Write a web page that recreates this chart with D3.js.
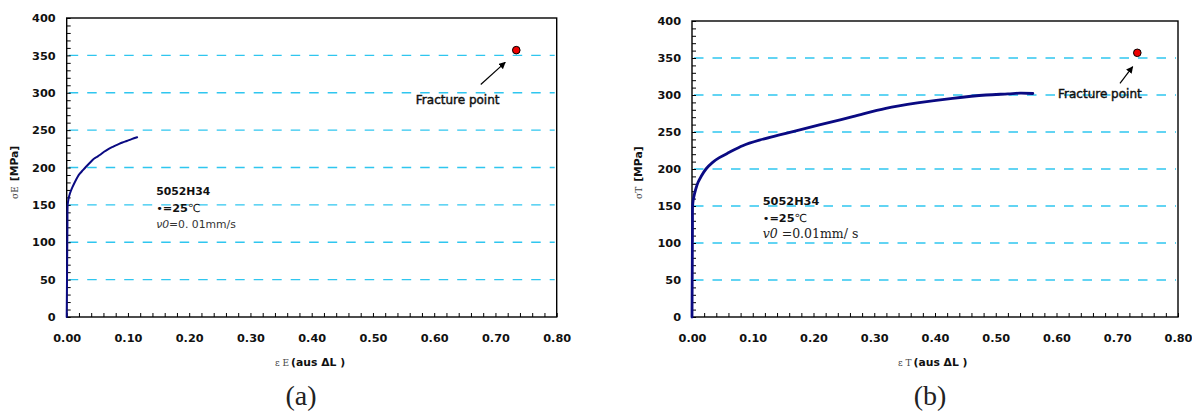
<!DOCTYPE html>
<html>
<head>
<meta charset="utf-8">
<script src="https://cdn.jsdelivr.net/npm/d3@7"></script>
<style>
  html, body { margin: 0; padding: 0; background: #fff; }
  svg { display: block; }
</style>
</head>
<body>
<svg id="chart" width="1192" height="414"></svg>
<script>
// ---------- data ----------
const xTickValues = [0, 0.1, 0.2, 0.3, 0.4, 0.5, 0.6, 0.7, 0.8];
const xTickLabels = ["0.00", "0.10", "0.20", "0.30", "0.40", "0.50", "0.60", "0.70", "0.80"];
const yTickValues = [0, 50, 100, 150, 200, 250, 300, 350, 400];
const gridValues = [50, 100, 150, 200, 250, 300, 350];

// (a) engineering stress-strain
const strainA = [0, 0.0003, 0.0006, 0.0009, 0.0012, 0.0016, 0.0030, 0.0054, 0.0090, 0.0136, 0.0175, 0.0217,
                 0.0265, 0.0315, 0.0375, 0.0435, 0.0490, 0.0540, 0.0610, 0.0680, 0.0760, 0.0840, 0.0910, 0.0980, 0.1060, 0.1150];
const stressA = [0, 30, 60, 95, 125, 150, 158, 165.5, 173, 181, 187, 192,
                 196.5, 201, 206, 211, 214, 216.7, 221, 224.7, 228, 231, 233.5, 235.5, 238, 240.5];

// (b) true stress-strain
const strainB = [0, 0.0002, 0.0004, 0.0006, 0.0008, 0.0010, 0.0020, 0.0040, 0.0066, 0.0100, 0.0148, 0.0230,
                 0.0340, 0.0450, 0.0615, 0.0834, 0.1110, 0.1440, 0.1710, 0.2096, 0.2645, 0.3190,
                 0.3740, 0.4290, 0.4840, 0.5200, 0.5400, 0.5610];
const stressB = [0, 30, 60, 95, 125, 150, 158, 166, 174, 182, 189.6, 200,
                 209, 215.3, 222.5, 231.5, 239, 246, 251.4, 259.5, 270.7, 282,
                 289.6, 295.5, 300, 301.5, 302.5, 302];

// fracture points
const fractureStrain = [0.734, 0.733];
const fractureStress = [357, 357];

// ---------- drawing ----------
const svg = d3.select("#chart");
const gridColor = "#2fc6ef";
const curveColor = "#0a0a82";
const tickFont = "'DejaVu Sans', Verdana, sans-serif";

const panels = [
  {
    left: 66.7, right: 556.7, top: 18, bottom: 317,
    strain: strainA, stress: stressA, curveWidth: 2,
    fx: fractureStrain[0], fy: fractureStress[0],
    arrow: { x1: 0.676, y1: 311, x2: 0.716, y2: 340.7 },
    fracLabel: { x: 0.570, y: 285 },
    info: { x: 0.146, y: [163.2, 140.9, 119.1] },
    infoStyle: "a",
    ySym: "σE", xSym: "ε E", caption: "(a)", captionX: 301,
    yTitleX: 18, xTitleX: 275
  },
  {
    left: 692, right: 1178, top: 21, bottom: 317,
    strain: strainB, stress: stressB, curveWidth: 2.8,
    fx: fractureStrain[1], fy: fractureStress[1],
    arrow: { x1: 0.7045, y1: 315.8, x2: 0.7254, y2: 338.2 },
    fracLabel: { x: 0.6025, y: 296 },
    info: { x: 0.1164, y: [151.4, 128.4, 106.8] },
    infoStyle: "b",
    ySym: "σT", xSym: "ε T", caption: "(b)", captionX: 930,
    yTitleX: 642, xTitleX: 898
  }
];

svg.append("defs").append("marker")
  .attr("id", "arrowhead")
  .attr("viewBox", "0 0 10 10")
  .attr("refX", 9).attr("refY", 5)
  .attr("markerWidth", 7).attr("markerHeight", 7)
  .attr("markerUnits", "userSpaceOnUse")
  .attr("orient", "auto")
  .append("path").attr("d", "M0,0 L10,5 L0,10 z").attr("fill", "#000");

panels.forEach(p => {
  const x = d3.scaleLinear().domain([0, 0.8]).range([p.left, p.right]);
  const y = d3.scaleLinear().domain([0, 400]).range([p.bottom, p.top]);
  const g = svg.append("g");

  // grid lines
  g.append("g").selectAll("line").data(gridValues).join("line")
    .attr("x1", x(0) + 2).attr("x2", x(0.8) - 2)
    .attr("y1", d => y(d)).attr("y2", d => y(d))
    .attr("stroke", gridColor).attr("stroke-width", 1.3)
    .attr("stroke-dasharray", "9.5,9");

  // minor ticks (inside)
  const yMinor = d3.range(0, 401, 10);
  const xMinor = d3.range(0, 0.8001, 0.02);
  g.append("g").call(d3.axisRight(y).tickValues(yMinor).tickSize(4).tickFormat(""))
    .attr("transform", `translate(${p.left},0)`)
    .call(a => a.select(".domain").remove())
    .call(a => a.selectAll("line").attr("stroke", "#000").attr("stroke-width", 1));
  g.append("g").call(d3.axisTop(x).tickValues(xMinor).tickSize(4).tickFormat(""))
    .attr("transform", `translate(0,${p.bottom})`)
    .call(a => a.select(".domain").remove())
    .call(a => a.selectAll("line").attr("stroke", "#000").attr("stroke-width", 1));

  // axes labels
  const yAxis = g.append("g").attr("transform", `translate(${p.left},0)`)
    .call(d3.axisLeft(y).tickValues(yTickValues).tickSize(0).tickPadding(11));
  yAxis.select(".domain").remove();
  yAxis.selectAll("text").attr("font-family", tickFont).attr("font-weight", "bold")
    .attr("font-size", "11.3px").attr("fill", "#111");

  const xAxis = g.append("g").attr("transform", `translate(0,${p.bottom})`)
    .call(d3.axisBottom(x).tickValues(xTickValues).tickSize(0).tickPadding(17)
      .tickFormat((d, i) => xTickLabels[i]));
  xAxis.select(".domain").remove();
  xAxis.selectAll("text").attr("font-family", tickFont).attr("font-weight", "bold")
    .attr("font-size", "11.3px").attr("fill", "#111");

  // frame
  g.append("rect")
    .attr("x", x(0)).attr("y", y(400))
    .attr("width", x(0.8) - x(0)).attr("height", y(0) - y(400))
    .attr("fill", "none").attr("stroke", "#000").attr("stroke-width", 1.4);

  // curve
  g.append("path").datum(p.strain)
    .attr("d", d3.line()
      .x((d, i) => x(p.strain[i]))
      .y((d, i) => y(p.stress[i]))
      .curve(d3.curveCatmullRom.alpha(0.5)))
    .attr("fill", "none").attr("stroke", curveColor)
    .attr("stroke-width", p.curveWidth).attr("stroke-linejoin", "round").attr("stroke-linecap", "round");

  // fracture point
  g.append("circle").attr("cx", x(p.fx)).attr("cy", y(p.fy)).attr("r", 3.8)
    .attr("fill", "#ee0000").attr("stroke", "#000").attr("stroke-width", 1);

  g.append("line")
    .attr("x1", x(p.arrow.x1)).attr("y1", y(p.arrow.y1))
    .attr("x2", x(p.arrow.x2)).attr("y2", y(p.arrow.y2))
    .attr("stroke", "#000").attr("stroke-width", 1.2)
    .attr("marker-end", "url(#arrowhead)");

  g.append("text").attr("x", x(p.fracLabel.x)).attr("y", y(p.fracLabel.y))
    .attr("font-family", tickFont).attr("font-size", "12px")
    .attr("fill", "#111").attr("stroke", "#111").attr("stroke-width", 0.45)
    .text("Fracture point");

  // info text
  const ix = x(p.info.x);
  g.append("text").attr("x", ix).attr("y", y(p.info.y[0]))
    .attr("font-family", tickFont).attr("font-weight", "bold").attr("font-size", p.infoStyle === "a" ? "10.8px" : "11.3px")
    .attr("fill", "#111").text("5052H34");
  const t2 = g.append("text").attr("x", ix).attr("y", y(p.info.y[1]))
    .attr("font-family", tickFont).attr("font-size", "11.3px").attr("fill", "#111");
  t2.append("tspan").text("•");
  t2.append("tspan").attr("font-weight", "bold").text("=25");
  t2.append("tspan").attr("font-size", "11px").text("℃");

  if (p.infoStyle === "a") {
    const t3 = g.append("text").attr("x", ix).attr("y", y(p.info.y[2]))
      .attr("font-family", tickFont).attr("font-size", "10.8px").attr("fill", "#333");
    t3.append("tspan").attr("font-style", "italic").text("ν0");
    t3.append("tspan").text("=0. 01mm/s");
  } else {
    const t3 = g.append("text").attr("x", ix).attr("y", y(p.info.y[2]))
      .attr("font-family", "'DejaVu Serif', 'Liberation Serif', serif").attr("font-size", "12.5px").attr("fill", "#222");
    t3.append("tspan").attr("font-style", "italic").text("v0");
    t3.append("tspan").text(" =0.01mm/ s");
  }

  // y title (rotated)
  const yt = g.append("text")
    .attr("transform", `translate(${p.yTitleX},199) rotate(-90)`)
    .attr("font-family", tickFont).attr("fill", "#111");
  yt.append("tspan").attr("font-size", "9px").attr("font-family", "'DejaVu Serif', serif").attr("fill", "#444").text(p.ySym);
  yt.append("tspan").attr("font-size", "10.8px").attr("font-weight", "bold").attr("dx", 5).text("[MPa]");

  // x title
  const xt = g.append("text").attr("x", p.xTitleX).attr("y", 366)
    .attr("font-family", tickFont).attr("fill", "#111");
  xt.append("tspan").attr("font-size", "9px").attr("font-family", "'DejaVu Serif', serif").attr("fill", "#444").text(p.xSym);
  xt.append("tspan").attr("font-size", "10.8px").attr("font-weight", "bold").attr("dx", 2).text("(aus ΔL )");

  // caption
  g.append("text").attr("x", p.captionX).attr("y", 405).attr("text-anchor", "middle")
    .attr("font-family", "'Liberation Serif', 'DejaVu Serif', serif").attr("font-size", "28px")
    .attr("fill", "#222").text(p.caption);
});
</script>
</body>
</html>
